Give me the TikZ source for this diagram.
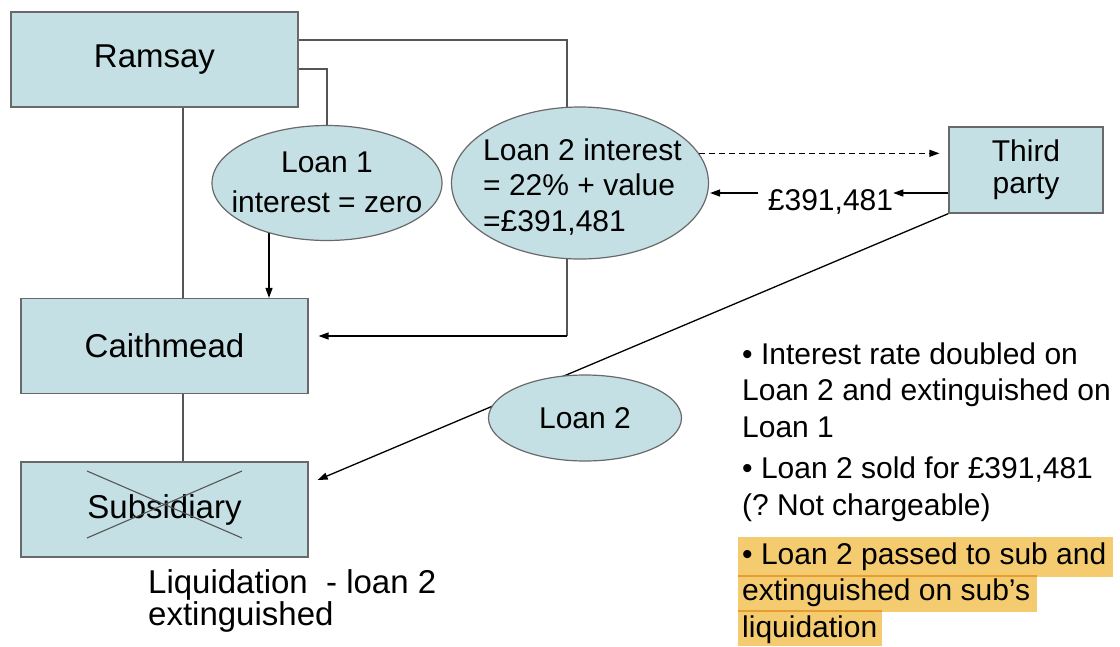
\documentclass[tikz,border=0pt]{standalone}
\usepackage{fontspec}
\setmainfont{Liberation Sans}
\usetikzlibrary{shapes.geometric,arrows.meta,positioning,backgrounds}

\definecolor{boxfill}{RGB}{197,224,228}
\definecolor{edgegray}{RGB}{105,105,105}
\definecolor{linkgray}{RGB}{85,85,85}
\definecolor{hilite}{RGB}{245,203,112}
\definecolor{hiline}{RGB}{230,158,50}

\newcommand{\fsz}[2]{\fontsize{#1}{#2}\selectfont}

\begin{document}
\begin{tikzpicture}[x=1pt, y=-1pt,
    firm/.style={rectangle, draw=edgegray, line width=1.2pt, fill=boxfill, minimum width=287pt, minimum height=95pt, inner sep=0pt, font=\fsz{33}{36}},
    loan/.style={ellipse, draw=edgegray, line width=1.2pt, fill=boxfill, inner sep=0pt, font=\fsz{30}{36}},
    txt/.style={inner sep=0pt, font=\fsz{30}{36.5}, align=left},
    link/.style={draw=linkgray, line width=1.2pt},
    arrow/.style={-{Triangle[length=10pt,width=7pt]}, line width=1.3pt, black},
    dasharrow/.style={arrow, dash pattern=on 6pt off 4pt},
    strike/.style={draw=linkgray, line width=1.1pt}
]
    \useasboundingbox (0,0) rectangle (1120,646);

    % Companies
    \node[firm] (ramsay) at (154.5,59.5) {Ramsay};
    \node[firm] (caith) at (164.5,346) {Caithmead};
    \node[firm] (sub) at (164.5,509.5) {Subsidiary};
    \node[firm, minimum width=154pt, minimum height=86pt, align=center, font=\fsz{30}{32}] (third) at (1026,170) {Third\\party};

    % Loans
    \node[loan, minimum width=230pt, minimum height=115pt] (l1) at (327,183) {};
    \node[txt, align=center, font=\fsz{30}{40}] (l1txt) at (327,182) {Loan 1\\interest = zero};
    \node[loan, minimum width=257pt, minimum height=152pt] (l2) at (580,183) {};
    \node[txt, anchor=west, font=\fsz{30}{35.5}] (l2txt) at (483,187) {Loan 2 interest\\= 22\% + value\\=£391,481};
    \node[loan, minimum width=193pt, minimum height=86pt] (l2b) at (585,418) {Loan 2};

    % Sale price
    \node[txt, anchor=base] (amt) at (830.5,210) {£391,481};
    \coordinate (pay) at ([yshift=-23pt]third.west);

    % Strike through the liquidated subsidiary
    \draw[strike] ([shift={(-77.5,-38.5)}]sub.center) -- ([shift={(77.5,28.5)}]sub.center);
    \draw[strike] ([shift={(-77.5,28.5)}]sub.center) -- ([shift={(77.5,-38.5)}]sub.center);

    % Notes (base = last line)
    \node[txt, anchor=base west] (note1) at (742,437) {• Interest rate doubled on\\Loan 2 and extinguished on\\Loan 1};
    \node[txt, anchor=base west] (note2) at (742,515) {• Loan 2 sold for £391,481\\(?\ Not chargeable)};
    \node[txt, anchor=base west] (note3) at (742,637) {• Loan 2 passed to sub and\\extinguished on sub’s\\liquidation};
    \node[txt, anchor=base west, font=\fsz{33}{28}] (liq) at (148,625) {Liquidation~ - loan 2\\extinguished};

    % Connectors
    \draw[dasharrow] (l2.14) -- ([xshift=-9pt]l2.14 -| third.west);
    \draw[arrow] (pay) -- (pay -| amt.east);
    \draw[arrow] ([xshift=-10pt]pay -| amt.west) -- ([xshift=1pt]pay -| l2.east);

    \begin{scope}[on background layer]
        % Highlighted note
        \fill[hilite] (738,537) rectangle (1113,577);
        \fill[hilite] (738,577) rectangle (1037,612);
        \fill[hilite] (738,612) rectangle (882,646);
        \draw[hiline, line width=2pt] (738,575.5) -- (1037,575.5);
        \draw[hiline, line width=2pt] (738,611) -- (882,611);

        \draw[link] ([yshift=19.5pt]ramsay.east) -| ([xshift=-13pt]l2.center);
        \draw[link] ([yshift=-9.5pt]ramsay.east) -| (l1.center);
        \draw[link] ([xshift=28.5pt]ramsay.south) -- ([xshift=18.5pt]caith.north);
        \draw[link] ([xshift=18.5pt]caith.south) -- ([xshift=18.5pt]sub.north);
        \draw[arrow] ([xshift=-58pt]l1.center) -- ([xshift=104.5pt]caith.north);
        \coordinate (knee) at ([xshift=-13pt,yshift=10pt]l2.center |- caith.east);
        \draw[link] ([xshift=-13pt]l2.center) -- (knee);
        \draw[arrow] (knee) -- ([xshift=10pt,yshift=10pt]caith.east);
        \draw[arrow] (third.south west) -- ([xshift=9pt,yshift=29.5pt]sub.east);
    \end{scope}
\end{tikzpicture}
\end{document}
